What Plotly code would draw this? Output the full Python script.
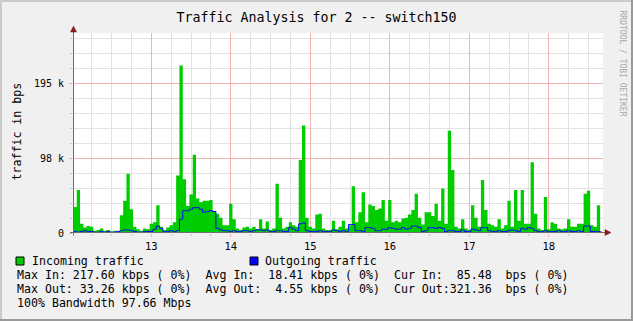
import plotly.graph_objects as go

# ---------------- data (kbps, hourly samples starting day 12 00:00) ----------------
start_day = 12.0
incoming_kbps = [
    3, 34, 56, 12, 7, 9, 8, 3, 4, 6, 3, 4, 2, 3, 2, 23, 42, 77, 31, 8,
    5, 3, 6, 5, 12, 14, 36, 8, 4, 7, 10, 14, 75, 218, 70, 35, 50, 102, 45, 40,
    42, 42, 43, 29, 25, 20, 10, 10, 38, 18, 6, 4, 7, 8, 6, 8, 5, 18, 6, 15,
    4, 6, 64, 20, 6, 8, 14, 10, 8, 95, 140, 20, 8, 6, 24, 25, 6, 4, 4, 16,
    5, 8, 16, 6, 10, 61, 14, 27, 53, 14, 37, 35, 30, 32, 43, 16, 43, 14, 16, 14,
    19, 20, 24, 30, 51, 20, 11, 27, 27, 22, 38, 16, 58, 12, 133, 82, 8, 6, 18, 6,
    4, 36, 20, 8, 69, 30, 12, 10, 8, 18, 6, 10, 42, 8, 56, 16, 56, 12, 12, 92,
    25, 6, 4, 47, 5, 14, 12, 6, 5, 6, 18, 8, 8, 12, 12, 51, 55, 10, 8, 36,
    2,
]
outgoing_kbps = [
    2, 2, 1, 2, 3, 2, 2, 1, 1, 2, 1, 2, 1, 1, 2, 3, 4, 4, 3, 2,
    1, 1, 2, 2, 2, 5, 9, 6, 2, 2, 3, 2, 3, 18, 29, 29, 31, 33, 33, 31,
    27, 28, 29, 28, 6, 4, 3, 3, 2, 3, 2, 2, 3, 3, 2, 3, 4, 4, 3, 4,
    2, 2, 3, 3, 2, 2, 7, 5, 3, 12, 13, 3, 2, 2, 2, 3, 2, 2, 2, 4,
    3, 2, 3, 2, 11, 11, 3, 3, 2, 7, 7, 6, 3, 3, 5, 5, 7, 6, 5, 5,
    7, 5, 6, 9, 9, 7, 2, 3, 7, 7, 6, 7, 6, 2, 3, 3, 2, 2, 4, 2,
    2, 5, 4, 3, 7, 7, 3, 2, 2, 3, 2, 2, 3, 4, 3, 2, 6, 5, 7, 6,
    3, 2, 2, 3, 2, 2, 2, 3, 2, 2, 3, 2, 2, 3, 2, 9, 9, 2, 2, 2,
    1,
]
day_ticks = [13, 14, 15, 16, 17, 18]
day_labels = ["13", "14", "15", "16", "17", "18"]
y_tickvals = [0, 97656.25, 195312.5]
y_ticklabels = ["0", "98 k", "195 k"]

title_text = "Traffic Analysis for 2 -- switch150"
legend_in = "Incoming traffic"
legend_out = "Outgoing traffic"
stat_lines = [
    "Max In: 217.60 kbps ( 0%)  Avg In:  18.41 kbps ( 0%)  Cur In:  85.48  bps ( 0%)",
    "Max Out: 33.26 kbps ( 0%)  Avg Out:  4.55 kbps ( 0%)  Cur Out:321.36  bps ( 0%)",
    "100% Bandwidth 97.66 Mbps",
]

n = min(len(incoming_kbps), len(outgoing_kbps))
x_days = [start_day + k / 24.0 for k in range(n)]
y_in = [v * 1000 for v in incoming_kbps[:n]]
y_out = [v * 1000 for v in outgoing_kbps[:n]]

# ---------------- geometry helpers ----------------
W_FIG, H_FIG = 633, 321
L, T, W, H = 73, 33, 530, 200
def fx(px):
    return (px - L) / W
def fy(py):
    return (T + H - py) / H

MONO = "DejaVu Sans Mono"
GRID_MINOR = "#E2E2E2"
GRID_MAJOR = "#F2B0B0"

fig = go.Figure()
fig.add_trace(go.Scatter(
    x=x_days, y=y_in, mode="lines", line=dict(width=0, shape="hvh", color="#00CC00"),
    fill="tozeroy", fillcolor="#00CC00", hoverinfo="skip", showlegend=False))
fig.add_trace(go.Scatter(
    x=x_days, y=y_out, mode="lines", line=dict(width=1, shape="hvh", color="#0000FF"),
    hoverinfo="skip", showlegend=False))

fig.update_layout(
    width=W_FIG, height=H_FIG,
    margin=dict(l=L, r=W_FIG - L - W, t=T, b=H_FIG - T - H, pad=0),
    paper_bgcolor="#F0F0F0", plot_bgcolor="#FFFFFF",
    font=dict(family=MONO, color="#000000", size=10),
    title=dict(text=title_text, x=0.5, xref="container", xanchor="center",
               y=1 - 17.5 / H_FIG, yref="container", yanchor="middle",
               font=dict(family=MONO, size=13.3, color="#000000")),
    showlegend=False,
)
fig.update_xaxes(
    range=[12 + (L - 71.8) / 79.5, 12 + (L + W - 71.8) / 79.5],
    tickmode="array", tickvals=day_ticks, ticktext=day_labels,
    showgrid=True, gridcolor=GRID_MAJOR, gridwidth=1,
    ticks="outside", ticklen=3, tickcolor=GRID_MAJOR,
    minor=dict(tick0=13, dtick=0.25, showgrid=True, gridcolor=GRID_MINOR,
               ticks="outside", ticklen=2, tickcolor="#C8C8C8"),
    zeroline=False, showline=False, fixedrange=True,
    tickfont=dict(family=MONO, size=10.5),
)
fig.update_yaxes(
    range=[0, 97656.25 * 200 / 75],
    tickmode="array", tickvals=y_tickvals, ticktext=y_ticklabels,
    showgrid=True, gridcolor=GRID_MAJOR, gridwidth=1,
    ticks="outside", ticklen=3, tickcolor=GRID_MAJOR,
    minor=dict(tick0=0, dtick=19531.25, showgrid=True, gridcolor=GRID_MINOR,
               ticks="outside", ticklen=2, tickcolor="#C8C8C8"),
    zeroline=False, showline=False, fixedrange=True,
    tickfont=dict(family=MONO, size=10),
    ticklabelstandoff=3,
)

shapes = []
AX = "#6E6E6E"
ARROW = "#8B1A1A"
# axes lines
shapes.append(dict(type="line", xref="paper", yref="paper", x0=fx(70), x1=fx(606),
                   y0=fy(232.5), y1=fy(232.5), line=dict(color=AX, width=1)))
shapes.append(dict(type="line", xref="paper", yref="paper", x0=fx(73.5), x1=fx(73.5),
                   y0=fy(235.5), y1=fy(30), line=dict(color=AX, width=1)))
# arrows
shapes.append(dict(type="path", xref="paper", yref="paper",
                   path=f"M {fx(611)} {fy(232.5)} L {fx(605)} {fy(229.5)} L {fx(605)} {fy(235.5)} Z",
                   fillcolor=ARROW, line=dict(color=ARROW, width=0.5)))
shapes.append(dict(type="path", xref="paper", yref="paper",
                   path=f"M {fx(73.5)} {fy(26)} L {fx(70.5)} {fy(32)} L {fx(76.5)} {fy(32)} Z",
                   fillcolor=ARROW, line=dict(color=ARROW, width=0.5)))
# legend squares
shapes.append(dict(type="rect", xref="paper", yref="paper", x0=fx(16), x1=fx(24),
                   y0=fy(265), y1=fy(257), fillcolor="#00CC00", line=dict(color="#000000", width=1)))
shapes.append(dict(type="rect", xref="paper", yref="paper", x0=fx(250), x1=fx(258),
                   y0=fy(265), y1=fy(257), fillcolor="#0000FF", line=dict(color="#000000", width=1)))
# 3D frame
shapes.append(dict(type="rect", xref="paper", yref="paper", x0=fx(0), x1=fx(2),
                   y0=fy(0), y1=fy(321), fillcolor="#CBCBCB", line=dict(width=0)))
shapes.append(dict(type="rect", xref="paper", yref="paper", x0=fx(0), x1=fx(633),
                   y0=fy(0), y1=fy(2), fillcolor="#CBCBCB", line=dict(width=0)))
shapes.append(dict(type="rect", xref="paper", yref="paper", x0=fx(631), x1=fx(633),
                   y0=fy(0), y1=fy(321), fillcolor="#999999", line=dict(width=0)))
shapes.append(dict(type="rect", xref="paper", yref="paper", x0=fx(0), x1=fx(633),
                   y0=fy(319), y1=fy(321), fillcolor="#999999", line=dict(width=0)))
fig.update_layout(shapes=shapes)

def nb(s):
    return s.replace(" ", "\u00a0")

ann = []
ann.append(dict(text=nb("traffic in bps"), xref="paper", yref="paper", x=fx(16), y=fy(131.5),
                textangle=-90, showarrow=False, xanchor="center", yanchor="middle",
                font=dict(family=MONO, size=11.6, color="#000000")))
ann.append(dict(text=nb("RRDTOOL / TOBI OETIKER"), xref="paper", yref="paper", x=fx(622.5), y=fy(63),
                textangle=90, showarrow=False, xanchor="center", yanchor="middle",
                font=dict(family=MONO, size=8, color="#A8A8A8")))
ann.append(dict(text=nb(legend_in), xref="paper", yref="paper", x=fx(30), y=fy(261),
                showarrow=False, xanchor="left", yanchor="middle",
                font=dict(family=MONO, size=11.6, color="#000000")))
ann.append(dict(text=nb(legend_out), xref="paper", yref="paper", x=fx(263), y=fy(261),
                showarrow=False, xanchor="left", yanchor="middle",
                font=dict(family=MONO, size=11.6, color="#000000")))
for i, line in enumerate(stat_lines):
    ann.append(dict(text=nb(line), xref="paper", yref="paper", x=fx(15), y=fy(275 + 14 * i),
                    showarrow=False, xanchor="left", yanchor="middle",
                    font=dict(family=MONO, size=11.6, color="#000000")))
fig.update_layout(annotations=ann)

fig.write_html("out.html")
